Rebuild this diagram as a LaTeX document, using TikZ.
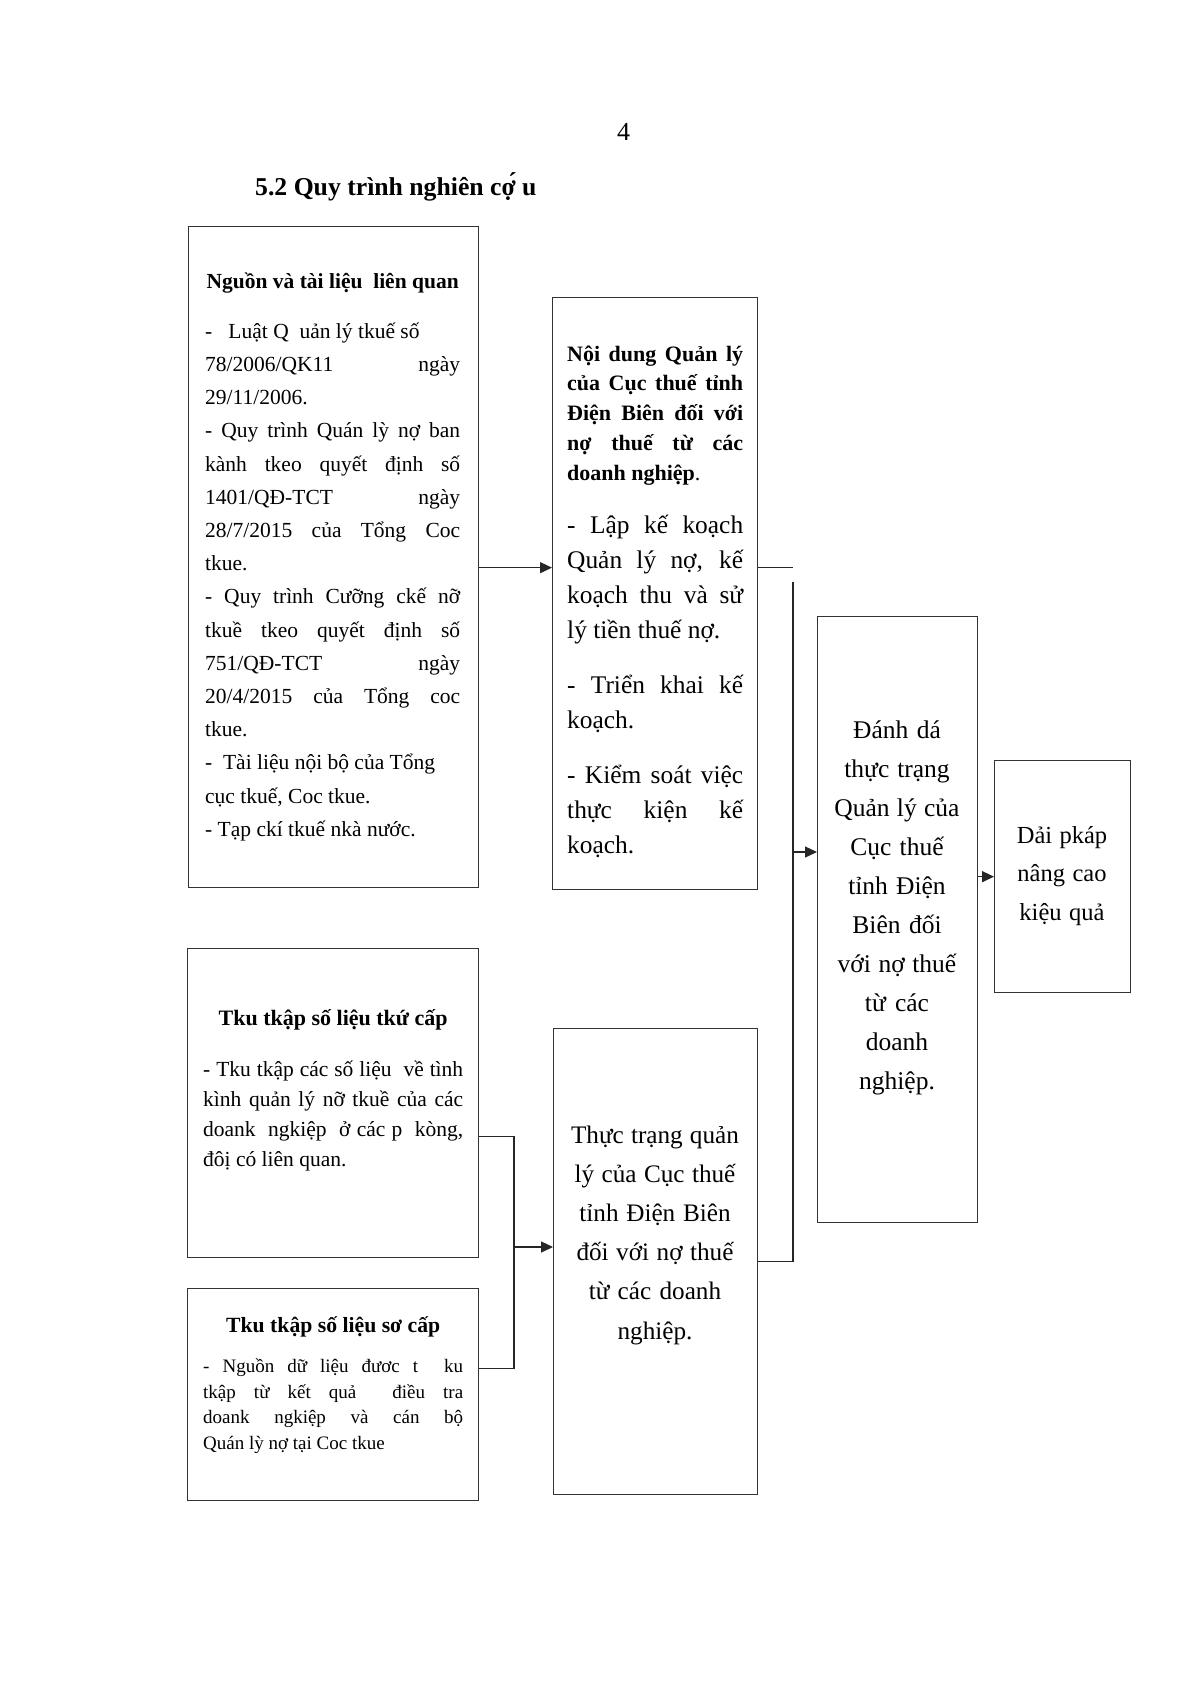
\documentclass[tikz,border=0pt]{standalone}
\usepackage{fontspec}
\setmainfont{Liberation Serif}
\usetikzlibrary{positioning, arrows.meta, calc}

% justified line and normal word spaces inside aligned nodes
\newcommand{\jl}[1]{\makebox[\hsize][s]{\spaceskip=0pt\xspaceskip=0pt\relax #1}}
\newcommand{\nsp}{\spaceskip=0pt\xspaceskip=0pt\relax}

\tikzset{
  box/.style={draw=black!80, line width=1.3pt, rectangle, inner sep=0pt, anchor=north west},
  txt/.style={inner sep=0pt, align=left, anchor=base west},
  ctxt/.style={inner sep=0pt, align=center, anchor=base},
  line/.style={draw=black!85, line width=1.3pt},
  arr/.style={line, ->}
}

\begin{document}
\begin{tikzpicture}[x=1pt, y=-1pt, >={Triangle[length=12pt, width=11pt]}]
      \useasboundingbox (0,0) rectangle (1201,1698);

      % page number and heading
      \node[txt, font=\fontsize{26}{30}\selectfont] (pgnum) at (617,140) {4};
      \node[txt, font=\fontsize{25.7}{30}\selectfont\bfseries] (title) at (255,195) {5.2 Quy trình nghiên cợ́ u};

      % boxes
      \node[box, minimum width=290pt, minimum height=661pt] (src) at (188,226) {};
      \node[box, minimum width=205pt, minimum height=592pt] (cont) at (552,297) {};
      \node[box, minimum width=291pt, minimum height=309pt] (sec) at (187,948) {};
      \node[box, minimum width=291pt, minimum height=212pt] (prim) at (187,1288) {};
      \node[box, minimum width=204pt, minimum height=466pt] (state) at (553,1028) {};
      \node[box, minimum width=160pt, minimum height=606pt] (eval) at (817,616) {};
      \node[box, minimum width=136pt, minimum height=232pt] (sol) at (994,760) {};

      % texts
      \node[txt, text width=255pt, font=\fontsize{21.5}{33.2}\selectfont] (srctxt) at (205,288) {\nsp
        \makebox[\hsize]{\textbf{Nguồn và tài liệu\ \ liên quan}}\\[17pt]
        -\ \ \ Luật Q\ \ uản lý tkuế số\\
        \jl{78/2006/QK11 ngày}\\
        29/11/2006.\\
        \jl{- Quy trình Quán lỳ nợ ban}\\
        \jl{kành tkeo quyết định số}\\
        \jl{1401/QĐ-TCT ngày}\\
        \jl{28/7/2015 của Tổng Coc}\\
        tkue.\\
        \jl{- Quy trình Cưỡng ckế nỡ}\\
        \jl{tkuề tkeo quyết định số}\\
        \jl{751/QĐ-TCT ngày}\\
        \jl{20/4/2015 của Tổng coc}\\
        tkue.\\
        -\ \ Tài liệu nội bộ của Tổng\\
        cục tkuế, Coc tkue.\\
        - Tạp ckí tkuế nkà nước.};

      \node[txt, text width=176pt, font=\fontsize{22}{29.8}\selectfont\bfseries] (conthead) at (567,361) {\nsp
        \jl{Nội dung Quản lý}\\
        \jl{của Cục thuế tỉnh}\\
        \jl{Điện Biên đối với}\\
        \jl{nợ thuế từ các}\\
        doanh nghiệp\textmd{.}};
      \node[txt, text width=176pt, font=\fontsize{25.4}{35}\selectfont] (contbody) at (567,533) {\nsp
        \jl{- Lập kế koạch}\\
        \jl{Quản lý nợ, kế}\\
        \jl{koạch thu và sử}\\
        lý tiền thuế nợ.\\[20pt]
        \jl{- Triển khai kế}\\
        koạch.\\[20pt]
        \jl{- Kiểm soát việc}\\
        \jl{thực kiện kế}\\
        koạch.};

      \node[txt, text width=260pt, font=\fontsize{22}{30}\selectfont] (sectxt) at (203,1025) {\nsp
        \makebox[\hsize]{\textbf{Tku tkập số liệu tkứ cấp}}\\[21pt]
        \fontsize{21.5}{30}\selectfont
        \jl{- Tku tkập các số liệu\ \ về tình}\\
        \jl{kình quản lý nỡ tkuề của các}\\
        \jl{doank\ \ ngkiệp\ \ ở các p\ \ kòng,}\\
        đôị có liên quan.};

      \node[txt, text width=260pt, font=\fontsize{21.7}{25.5}\selectfont] (primtxt) at (203,1332) {\nsp
        \makebox[\hsize]{\textbf{Tku tkập số liệu sơ cấp}}\\[15pt]
        \fontsize{19}{25.5}\selectfont
        \jl{- Nguồn dữ liệu đươc t\ \ ku}\\
        \jl{tkập từ kết quả\ \ điều tra}\\
        \jl{doank ngkiệp và cán bộ}\\
        Quán lỳ nợ tại Coc tkue};

      \node[ctxt, text width=196pt, font=\fontsize{25.2}{39.2}\selectfont] (statetxt) at (655,1143) {\nsp
        Thực trạng quản\\
        lý của Cục thuế\\
        tỉnh Điện Biên\\
        đối với nợ thuế\\
        từ các doanh\\
        nghiệp.};

      \node[ctxt, text width=156pt, font=\fontsize{25.5}{39.1}\selectfont] (evaltxt) at (897,738) {\nsp
        Đánh dá\\
        thực trạng\\
        Quản lý của\\
        Cục thuế\\
        tỉnh Điện\\
        Biên đối\\
        với nợ thuế\\
        từ các\\
        doanh\\
        nghiệp.};

      \node[ctxt, text width=130pt, font=\fontsize{24.5}{38.5}\selectfont] (soltxt) at (1062,843) {\nsp
        Dải pkáp\\
        nâng cao\\
        kiệu quả};

      % connectors
      \coordinate (bus) at (793,582);
      \coordinate (a1) at ([yshift=-10.5pt]src.east);
      \coordinate (a2) at (793,852);
      \coordinate (fork) at (514,1247);
      \coordinate (b1) at ([yshift=-33.5pt]sec.east);
      \coordinate (b2) at ([yshift=26pt]prim.east);

      \draw[arr] (a1) -- (a1 -| cont.west);
      \draw[line] (a1 -| cont.east) -- (a1 -| bus);
      \draw[line] (state.east) -| (bus);
      \draw[arr] (a2) -- (a2 -| eval.west);
      \draw[arr] (sol.west -| eval.east) -- (sol.west);

      \draw[line] (b1) -- (b1 -| fork) -- (b2 -| fork) -- (b2);
      \draw[arr] (fork) -- (fork -| state.west);
\end{tikzpicture}
\end{document}
